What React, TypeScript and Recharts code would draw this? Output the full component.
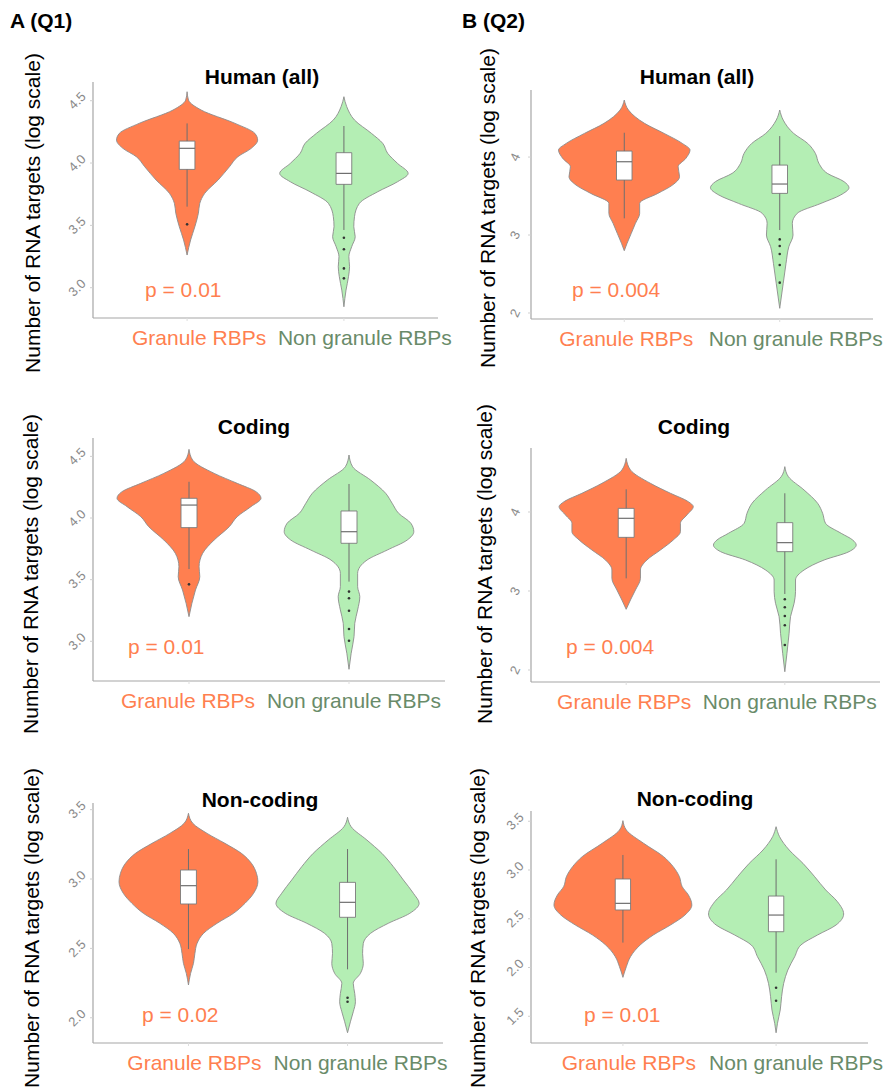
import React from "react";
import {
  ComposedChart,
  Area,
  XAxis,
  YAxis,
  ReferenceArea,
  ReferenceLine,
  ReferenceDot,
} from "recharts";

const FONT = '"Liberation Sans", Arial, Helvetica, sans-serif';
const CORAL = "#FF7F50";
const PALE_GREEN = "#B4EEB4";
const SAGE = "#698B69";
const OUTLINE = "#8c8c8c";
const AXIS = "#a6a6a6";

// group names on the x axis
const groups = ["Granule RBPs", "Non granule RBPs"];
const columnTitles = ["A (Q1)", "B (Q2)"];
const yTitle = "Number of RNA targets (log scale)";

// violin outlines: [log10 targets, relative half-width]
const q1AllGranule = [[3.262, 0], [3.383, 0.05], [3.489, 0.11], [3.597, 0.16], [3.677, 0.18], [3.757, 0.25], [3.864, 0.44], [3.97, 0.6], [4.051, 0.72], [4.118, 0.91], [4.184, 1.0], [4.238, 0.96], [4.318, 0.68], [4.425, 0.2], [4.505, 0.02], [4.572, 0]];
const q1AllNonGranule = [[2.847, 0], [2.981, 0.03], [3.088, 0.065], [3.168, 0.08], [3.249, 0.07], [3.329, 0.11], [3.409, 0.16], [3.489, 0.14], [3.57, 0.15], [3.677, 0.22], [3.77, 0.48], [3.85, 0.76], [3.917, 0.91], [3.997, 0.76], [4.078, 0.62], [4.158, 0.55], [4.238, 0.39], [4.345, 0.15], [4.452, 0.04], [4.532, 0]];
const q2AllGranule = [[2.799, 0], [2.894, 0.04], [3.022, 0.1], [3.15, 0.16], [3.278, 0.22], [3.406, 0.22], [3.534, 0.48], [3.641, 0.69], [3.748, 0.79], [3.876, 0.77], [3.983, 0.88], [4.09, 0.94], [4.175, 0.83], [4.303, 0.57], [4.432, 0.29], [4.603, 0.06], [4.731, 0]];
const q2AllNonGranule = [[2.06, 0], [2.381, 0.05], [2.637, 0.09], [2.85, 0.13], [3.0, 0.19], [3.15, 0.18], [3.278, 0.25], [3.406, 0.59], [3.513, 0.87], [3.607, 0.99], [3.684, 0.92], [3.791, 0.68], [3.919, 0.56], [4.047, 0.51], [4.175, 0.4], [4.303, 0.2], [4.474, 0.05], [4.603, 0]];
const q1CodingGranule = [[3.2, 0], [3.308, 0.04], [3.416, 0.09], [3.524, 0.15], [3.605, 0.14], [3.714, 0.19], [3.822, 0.35], [3.93, 0.56], [4.011, 0.67], [4.092, 0.86], [4.16, 1.0], [4.214, 0.93], [4.281, 0.67], [4.362, 0.35], [4.47, 0.05], [4.557, 0]];
const q1CodingNonGranule = [[2.773, 0], [2.903, 0.03], [3.038, 0.07], [3.146, 0.08], [3.254, 0.12], [3.362, 0.15], [3.443, 0.12], [3.551, 0.12], [3.659, 0.25], [3.74, 0.53], [3.822, 0.81], [3.889, 0.9], [3.957, 0.86], [4.038, 0.69], [4.119, 0.6], [4.2, 0.51], [4.308, 0.3], [4.416, 0.05], [4.511, 0]];
const q2CodingGranule = [[2.768, 0], [2.886, 0.06], [3.013, 0.13], [3.16, 0.2], [3.266, 0.2], [3.392, 0.29], [3.519, 0.48], [3.646, 0.66], [3.751, 0.76], [3.857, 0.76], [3.962, 0.85], [4.068, 0.94], [4.131, 0.87], [4.237, 0.62], [4.363, 0.34], [4.532, 0.06], [4.679, 0]];
const q2CodingNonGranule = [[1.978, 0], [2.211, 0.03], [2.465, 0.06], [2.675, 0.08], [2.844, 0.13], [2.991, 0.15], [3.139, 0.15], [3.266, 0.27], [3.392, 0.55], [3.498, 0.9], [3.582, 1.0], [3.646, 0.95], [3.73, 0.79], [3.857, 0.57], [3.983, 0.53], [4.11, 0.46], [4.278, 0.27], [4.447, 0.05], [4.574, 0]];
const q1NonCodingGranule = [[2.236, 0], [2.32, 0.03], [2.392, 0.07], [2.464, 0.09], [2.536, 0.12], [2.608, 0.21], [2.681, 0.4], [2.753, 0.63], [2.825, 0.79], [2.897, 0.91], [2.981, 0.97], [3.041, 0.95], [3.113, 0.88], [3.185, 0.74], [3.257, 0.51], [3.329, 0.26], [3.402, 0.06], [3.474, 0]];
const q1NonCodingNonGranule = [[1.892, 0], [1.971, 0.04], [2.043, 0.08], [2.115, 0.11], [2.176, 0.1], [2.248, 0.08], [2.32, 0.18], [2.392, 0.22], [2.464, 0.21], [2.536, 0.22], [2.608, 0.32], [2.681, 0.57], [2.753, 0.87], [2.825, 1.0], [2.897, 0.92], [2.993, 0.78], [3.089, 0.64], [3.185, 0.48], [3.281, 0.27], [3.377, 0.05], [3.445, 0]];
const q2NonCodingGranule = [[1.899, 0], [2.009, 0.05], [2.111, 0.11], [2.231, 0.25], [2.333, 0.44], [2.436, 0.69], [2.538, 0.9], [2.641, 1.0], [2.744, 0.95], [2.829, 0.86], [2.931, 0.82], [3.034, 0.73], [3.137, 0.59], [3.274, 0.3], [3.41, 0.05], [3.506, 0]];
const q2NonCodingNonGranule = [[1.331, 0], [1.428, 0.02], [1.564, 0.06], [1.701, 0.08], [1.838, 0.11], [1.974, 0.17], [2.111, 0.27], [2.231, 0.36], [2.333, 0.6], [2.436, 0.87], [2.549, 0.98], [2.675, 0.89], [2.795, 0.72], [2.931, 0.56], [3.068, 0.39], [3.205, 0.19], [3.342, 0.05], [3.444, 0]];

// boxplot stats: [lower whisker, Q1, median, Q3, upper whisker]
const q1AllBoxes = [[3.65, 3.949, 4.118, 4.176, 4.318], [3.463, 3.829, 3.917, 4.083, 4.297]];
const q2AllBoxes = [[3.214, 3.705, 3.94, 4.077, 4.312], [3.064, 3.534, 3.654, 3.897, 4.269]];
const q1CodingBoxes = [[3.586, 3.922, 4.105, 4.16, 4.294], [3.484, 3.795, 3.889, 4.057, 4.276]];
const q2CodingBoxes = [[3.16, 3.679, 3.92, 4.046, 4.287], [2.962, 3.498, 3.612, 3.865, 4.237]];
const q1NonCodingBoxes = [[2.495, 2.82, 2.952, 3.065, 3.216], [2.349, 2.724, 2.832, 2.976, 3.216]];
const q2NonCodingBoxes = [[2.255, 2.59, 2.658, 2.908, 3.154], [1.947, 2.367, 2.538, 2.733, 3.11]];

// outliers per group
const q1AllOutliers = [[3.508], [3.401, 3.308, 3.155, 3.075]];
const q2AllOutliers = [[], [2.944, 2.859, 2.756, 2.615, 2.389]];
const q1CodingOutliers = [[3.462], [3.403, 3.349, 3.248, 3.1, 3.005]];
const q2CodingOutliers = [[], [2.895, 2.794, 2.684, 2.566, 2.316]];
const q1NonCodingOutliers = [[], [2.144, 2.115]];
const q2NonCodingOutliers = [[], [1.793, 1.66]];

// y ticks and Wilcoxon p-values
const ticksQ1All = [3, 3.5, 4, 4.5];
const ticksQ2All = [2, 3, 4];
const ticksQ1Coding = [3, 3.5, 4, 4.5];
const ticksQ2Coding = [2, 3, 4];
const ticksQ1NonCoding = [2, 2.5, 3, 3.5];
const ticksQ2NonCoding = [1.5, 2, 2.5, 3, 3.5];
const pValues = ["p = 0.01", "p = 0.004", "p = 0.01", "p = 0.004", "p = 0.02", "p = 0.01"];

type Pair = number[];

interface Panel {
  title: string;
  violins: Pair[][];
  boxes: number[][];
  outliers: number[][];
  ticks: number[];
  digits: number;
  tickAngle: number;
  pValue: string;
  col: number; // left edge of the column
  plot: [number, number, number, number]; // left, right, top, bottom
  domain: [number, number];
  titlePos: [number, number];
  yTitlePos: [number, number];
  pPos: [number, number];
  labelDx: [number, number];
}

const panels: Panel[] = [
  {
    title: "Human (all)", violins: [q1AllGranule, q1AllNonGranule], boxes: q1AllBoxes, outliers: q1AllOutliers,
    ticks: ticksQ1All, digits: 1, tickAngle: -45, pValue: pValues[0],
    col: 0, plot: [93, 438, 82, 318], domain: [2.757, 4.65],
    titlePos: [262, 77], yTitlePos: [33, 213], pPos: [145, 290], labelDx: [12, 21],
  },
  {
    title: "Human (all)", violins: [q2AllGranule, q2AllNonGranule], boxes: q2AllBoxes, outliers: q2AllOutliers,
    ticks: ticksQ2All, digits: 0, tickAngle: -65, pValue: pValues[1],
    col: 445, plot: [531, 873, 90, 319], domain: [1.923, 4.86],
    titlePos: [697, 77], yTitlePos: [488, 208], pPos: [572, 290], labelDx: [2, 16],
  },
  {
    title: "Coding", violins: [q1CodingGranule, q1CodingNonGranule], boxes: q1CodingBoxes, outliers: q1CodingOutliers,
    ticks: ticksQ1Coding, digits: 1, tickAngle: -45, pValue: pValues[2],
    col: 0, plot: [93, 445, 438, 681], domain: [2.678, 4.649],
    titlePos: [254, 427], yTitlePos: [31, 574], pPos: [128, 647], labelDx: [-1, 5],
  },
  {
    title: "Coding", violins: [q2CodingGranule, q2CodingNonGranule], boxes: q2CodingBoxes, outliers: q2CodingOutliers,
    ticks: ticksQ2Coding, digits: 0, tickAngle: -65, pValue: pValues[3],
    col: 445, plot: [531, 880, 448, 682], domain: [1.848, 4.81],
    titlePos: [694, 427], yTitlePos: [485, 564], pPos: [566, 647], labelDx: [-2, 5],
  },
  {
    title: "Non-coding", violins: [q1NonCodingGranule, q1NonCodingNonGranule], boxes: q1NonCodingBoxes, outliers: q1NonCodingOutliers,
    ticks: ticksQ1NonCoding, digits: 1, tickAngle: -45, pValue: pValues[4],
    col: 0, plot: [93, 443, 803, 1043], domain: [1.818, 3.548],
    titlePos: [260, 800], yTitlePos: [32, 928], pPos: [142, 1015], labelDx: [6, 13],
  },
  {
    title: "Non-coding", violins: [q2NonCodingGranule, q2NonCodingNonGranule], boxes: q2NonCodingBoxes, outliers: q2NonCodingOutliers,
    ticks: ticksQ2NonCoding, digits: 1, tickAngle: -45, pValue: pValues[5],
    col: 445, plot: [531, 868, 811, 1043], domain: [1.226, 3.605],
    titlePos: [695, 799], yTitlePos: [478, 928], pPos: [584, 1015], labelDx: [6, 20],
  },
];

const fills = [CORAL, PALE_GREEN];
const labelColors = [CORAL, SAGE];
const HALF_WIDTH = 0.45; // violin width 0.9 on the discrete axis
const BOX_HALF = 0.05;
const RIGHT_PAD = 40; // room for the wide group label
const TOP_PAD = 10;
const X_AXIS_H = 45;

function ViolinPanel({ p }: { p: Panel }) {
  const [left, right, top, bottom] = p.plot;
  const width = right - p.col + RIGHT_PAD;
  const height = bottom - top + TOP_PAD + X_AXIS_H;

  return (
    <>
      <div style={{ position: "absolute", left: p.col, top: top - TOP_PAD }}>
        <ComposedChart
          layout="vertical"
          width={width}
          height={height}
          margin={{ top: TOP_PAD, right: RIGHT_PAD, bottom: 0, left: left - p.col - 40 }}
        >
          <XAxis
            type="number"
            dataKey="x"
            domain={[0.4, 2.6]}
            ticks={[1, 2]}
            interval={0}
            allowDataOverflow
            height={X_AXIS_H}
            axisLine={{ stroke: AXIS, strokeWidth: 1.2 }}
            tickLine={{ stroke: "#dddddd" }}
            tickSize={3}
            tick={(props: any) => (
              <text
                x={props.x + p.labelDx[props.index]}
                y={props.y + 14}
                textAnchor="middle"
                dominantBaseline="central"
                fontFamily={FONT}
                fontSize={21}
                fill={labelColors[props.index]}
              >
                {groups[props.index]}
              </text>
            )}
          />
          <YAxis
            type="number"
            dataKey="y"
            reversed
            domain={p.domain}
            ticks={p.ticks}
            interval={0}
            allowDataOverflow
            width={40}
            axisLine={{ stroke: AXIS, strokeWidth: 1.2 }}
            tickLine={{ stroke: "#d0d0d0" }}
            tickSize={3}
            tick={(props: any) => {
              const tx = props.x - 11;
              const ty = props.y;
              return (
                <text
                  x={tx}
                  y={ty}
                  textAnchor="middle"
                  dominantBaseline="central"
                  transform={`rotate(${p.tickAngle}, ${tx}, ${ty})`}
                  fontFamily={FONT}
                  fontSize={13}
                  fill="#8a8a8a"
                >
                  {Number(props.payload.value).toFixed(p.digits)}
                </text>
              );
            }}
          />
          {p.violins.map((v, i) => (
            <Area
              key={`violin-${i}`}
              data={v.map(([y, w]) => ({ y, band: [i + 1 - w * HALF_WIDTH, i + 1 + w * HALF_WIDTH] }))}
              dataKey="band"
              type="monotone"
              stroke={OUTLINE}
              strokeWidth={0.9}
              fill={fills[i]}
              fillOpacity={1}
              dot={false}
              activeDot={false}
              isAnimationActive={false}
            />
          ))}
          {p.boxes.map((b, i) => (
            <ReferenceLine
              key={`wlo-${i}`}
              segment={[{ x: i + 1, y: b[0] }, { x: i + 1, y: b[1] }]}
              stroke="#6f6f6f"
              strokeWidth={1}
            />
          ))}
          {p.boxes.map((b, i) => (
            <ReferenceLine
              key={`whi-${i}`}
              segment={[{ x: i + 1, y: b[3] }, { x: i + 1, y: b[4] }]}
              stroke="#6f6f6f"
              strokeWidth={1}
            />
          ))}
          {p.boxes.map((b, i) => (
            <ReferenceArea
              key={`box-${i}`}
              x1={i + 1 - BOX_HALF}
              x2={i + 1 + BOX_HALF}
              y1={b[1]}
              y2={b[3]}
              fill="#ffffff"
              fillOpacity={1}
              stroke="#7a7a7a"
              strokeWidth={0.9}
            />
          ))}
          {p.boxes.map((b, i) => (
            <ReferenceLine
              key={`med-${i}`}
              segment={[{ x: i + 1 - BOX_HALF, y: b[2] }, { x: i + 1 + BOX_HALF, y: b[2] }]}
              stroke="#6f6f6f"
              strokeWidth={1.2}
            />
          ))}
          {p.outliers.map((list, i) =>
            list.map((v, j) => (
              <ReferenceDot key={`out-${i}-${j}`} x={i + 1} y={v} r={1.3} fill="#333333" stroke="none" />
            ))
          )}
        </ComposedChart>
      </div>
      <div
        style={{
          position: "absolute",
          left: p.titlePos[0],
          top: p.titlePos[1],
          transform: "translate(-50%, -50%)",
          fontFamily: FONT,
          fontWeight: "bold",
          fontSize: 21,
          whiteSpace: "nowrap",
          color: "#000",
        }}
      >
        {p.title}
      </div>
      <div
        style={{
          position: "absolute",
          left: p.yTitlePos[0],
          top: p.yTitlePos[1],
          transform: "translate(-50%, -50%) rotate(-90deg)",
          fontFamily: FONT,
          fontSize: 21,
          whiteSpace: "nowrap",
          color: "#000",
        }}
      >
        {yTitle}
      </div>
      <div
        style={{
          position: "absolute",
          left: p.pPos[0],
          top: p.pPos[1],
          transform: "translateY(-50%)",
          fontFamily: FONT,
          fontSize: 21,
          whiteSpace: "nowrap",
          color: CORAL,
        }}
      >
        {p.pValue}
      </div>
    </>
  );
}

export default function App() {
  return (
    <div
      style={{
        position: "absolute",
        left: 0,
        top: 0,
        width: 891,
        height: 1092,
        background: "#ffffff",
        overflow: "hidden",
        fontFamily: FONT,
      }}
    >
      {columnTitles.map((t, i) => (
        <div
          key={t}
          style={{
            position: "absolute",
            left: i === 0 ? 10 : 462,
            top: 21,
            transform: "translateY(-50%)",
            fontWeight: "bold",
            fontSize: 21,
            whiteSpace: "nowrap",
          }}
        >
          {t}
        </div>
      ))}
      {panels.map((p, i) => (
        <ViolinPanel key={i} p={p} />
      ))}
    </div>
  );
}
